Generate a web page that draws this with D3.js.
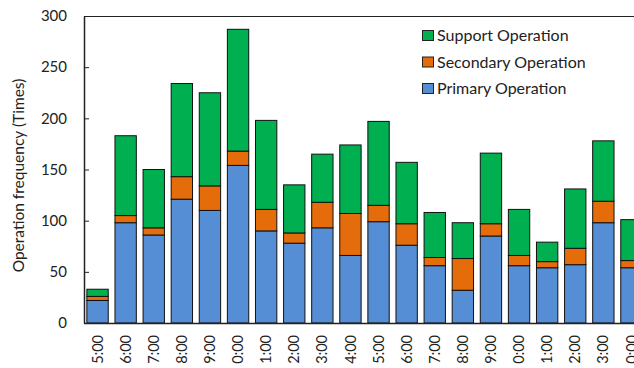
<!DOCTYPE html>
<html>
<head>
<meta charset="utf-8">
<script src="https://cdn.jsdelivr.net/npm/d3@7"></script>
<style>
  html, body { margin: 0; padding: 0; background: #fff; overflow: hidden; }
  svg { display: block; font-family: Lato, "Open Sans", sans-serif; }
</style>
</head>
<body>
<svg id="chart" width="634" height="368"></svg>
<script>
// Hour labels along the x axis (the sequence wraps, so labels repeat)
const hours = ["5:00","6:00","7:00","8:00","9:00","0:00","1:00","2:00","3:00","4:00",
               "5:00","6:00","7:00","8:00","9:00","0:00","1:00","2:00","3:00","0:00"];
// Operation counts per hour
const primary   = [22, 98, 86, 121, 110, 154, 90, 78, 93, 66, 99, 76, 56, 32, 85, 56, 54, 57, 98, 54];
const secondary = [ 4,  7,  7,  22,  24,  14, 21, 10, 25, 41, 16, 21,  8, 31, 12, 10,  6, 16, 21,  7];
const support   = [ 7, 78, 57,  91,  91, 119, 87, 47, 47, 67, 82, 60, 44, 35, 69, 45, 19, 58, 59, 40];
const yTicks = [0, 50, 100, 150, 200, 250, 300];

const seriesNames  = ["Primary Operation", "Secondary Operation", "Support Operation"];
const seriesColors = ["#558ed5", "#e46c0a", "#00b050"];

const svg = d3.select("#chart");
const plot = { left: 84, right: 646, top: 16, bottom: 323 };

const rows = hours.map((h, i) => ({ idx: i, label: h, p: primary[i], s: secondary[i], u: support[i] }));
const stack = d3.stack().keys(["p", "s", "u"])(rows);

const x = d3.scaleBand()
  .domain(d3.range(hours.length))
  .range([plot.left - 0.5, plot.right - 0.5])
  .paddingInner(0.24)
  .paddingOuter(0.12);

const y = d3.scaleLinear().domain([0, 300]).range([plot.bottom, plot.top]);

// frame: top border line
svg.append("line")
  .attr("x1", plot.left).attr("x2", 634)
  .attr("y1", plot.top + 0.5).attr("y2", plot.top + 0.5)
  .attr("stroke", "#222").attr("stroke-width", 1);

// stacked bars
const layers = svg.append("g").selectAll("g")
  .data(stack).join("g")
  .attr("fill", (d, i) => seriesColors[i]);

layers.selectAll("rect")
  .data(d => d)
  .join("rect")
  .attr("x", d => x(d.data.idx))
  .attr("width", x.bandwidth())
  .attr("y", d => y(d[1]))
  .attr("height", d => y(d[0]) - y(d[1]))
  .attr("stroke", "#111")
  .attr("stroke-width", 1);

// y axis with inward ticks
const yAxis = svg.append("g")
  .attr("transform", `translate(${plot.left},0)`)
  .call(d3.axisLeft(y).tickValues(yTicks).tickSizeInner(-5).tickSizeOuter(0).tickPadding(17));
yAxis.select(".domain").attr("stroke", "#222").attr("stroke-width", 1.5);
yAxis.selectAll(".tick line").attr("stroke", "#222");
yAxis.selectAll(".tick text").attr("font-size", 15).attr("fill", "#222").attr("font-family", "Lato");

// x axis
const xAxis = svg.append("g")
  .attr("transform", `translate(0,${plot.bottom})`)
  .call(d3.axisBottom(x).tickFormat(i => hours[i]).tickSize(0).tickPadding(0));
xAxis.select(".domain").attr("stroke", "#222").attr("stroke-width", 1.5)
  .attr("d", `M${plot.left},0.5H634`);
xAxis.selectAll(".tick text")
  .attr("font-size", 14.5).attr("fill", "#222").attr("font-family", "Lato")
  .attr("text-anchor", "end")
  .attr("transform", "rotate(-90)")
  .attr("x", -12).attr("y", 0).attr("dy", "0.35em");

// y axis title
svg.append("text")
  .attr("transform", `translate(19,${(plot.top + plot.bottom) / 2 + 6}) rotate(-90)`)
  .attr("text-anchor", "middle")
  .attr("dy", "0.35em")
  .attr("font-size", 15.5)
  .attr("fill", "#222")
  .text("Operation frequency (Times)");

// legend (support on top)
const legendItems = [2, 1, 0];
const legend = svg.append("g").attr("transform", "translate(422,30)");
legendItems.forEach((k, r) => {
  const g = legend.append("g").attr("transform", `translate(0,${r * 26.5})`);
  g.append("rect").attr("x", 0.5).attr("y", 0.5).attr("width", 11).attr("height", 10)
    .attr("fill", seriesColors[k]).attr("stroke", "#222").attr("stroke-width", 1);
  g.append("text").attr("x", 15).attr("y", 5.5).attr("dy", "0.35em")
    .attr("font-size", 16).attr("fill", "#222").text(seriesNames[k]);
});
</script>
</body>
</html>
